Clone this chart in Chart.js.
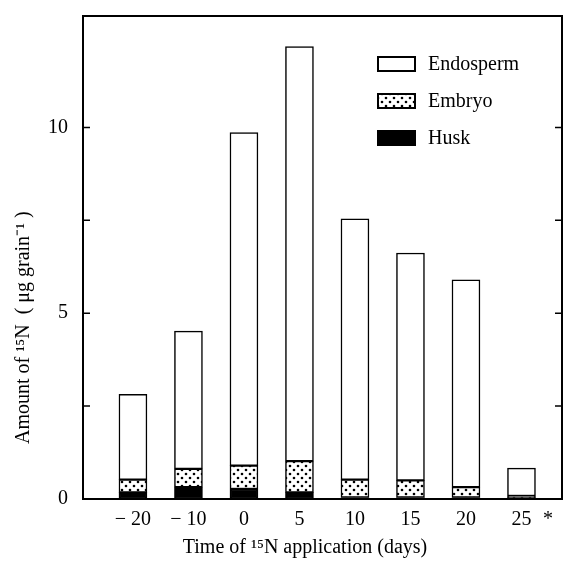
<!DOCTYPE html>
<html>
<head>
<meta charset="utf-8">
<script src="https://cdn.jsdelivr.net/npm/chart.js@4.4.1/dist/chart.umd.min.js"></script>
<style>
  html, body { margin: 0; padding: 0; background: #fff; }
  #chart { display: block; }
</style>
</head>
<body>
<canvas id="chart" width="563" height="563"></canvas>
<script>
/* ── Data ───────────────────────────────────────────────── */

const dayLabels = ['\u2212 20', '\u2212 10', '0', '5', '10', '15', '20', '25'];
const noteLabel = '*';
const huskValues = [0.18, 0.32, 0.27, 0.18, 0.04, 0.04, 0.04, 0.03];
const embryoValues = [0.34, 0.49, 0.63, 0.84, 0.48, 0.46, 0.28, 0.05];
const endospermValues = [2.30, 3.71, 8.96, 11.16, 7.02, 6.12, 5.58, 0.75];
const yTickLabels = [0, 5, 10];

/* ── Layout ─────────────────────────────────────────────── */

const NOTE_POS = 7.48;
const FONT = { family: '"Liberation Serif", "Times New Roman", serif', size: 20 };
const Y_TITLE_LEAD = '\u2003\u2003   ';
const X_TITLE_TAIL = '\u2003\u2002 ';

function toPoints(values) {
  return values.map((v, i) => ({ x: i, y: v }));
}

function dotPattern() {
  const c = document.createElement('canvas');
  c.width = 8;
  c.height = 8;
  const g = c.getContext('2d');
  g.fillStyle = '#fff';
  g.fillRect(0, 0, 8, 8);
  g.fillStyle = '#000';
  [[2, 2], [6, 6]].forEach(([x, y]) => {
    g.beginPath();
    g.arc(x, y, 1.3, 0, Math.PI * 2);
    g.fill();
  });
  return g.createPattern(c, 'repeat');
}

// frame round the plot plus short inward ticks on both sides
const framePlugin = {
  id: 'frame',
  afterDatasetsDraw(chart) {
    const { ctx, chartArea: a, scales: { y } } = chart;
    ctx.save();
    ctx.strokeStyle = '#000';
    ctx.lineWidth = 2;
    ctx.strokeRect(a.left, a.top, a.right - a.left, a.bottom - a.top);
    ctx.lineWidth = 1.5;
    y.ticks.filter(t => t.value > 0 && t.value <= 10).forEach(t => {
      const py = y.getPixelForValue(t.value);
      ctx.beginPath();
      ctx.moveTo(a.left, py);
      ctx.lineTo(a.left + 7, py);
      ctx.moveTo(a.right, py);
      ctx.lineTo(a.right - 7, py);
      ctx.stroke();
    });
    ctx.restore();
  },
};

// legend boxes inside the plot, top to bottom in reverse stack order
const boxLegend = {
  id: 'boxLegend',
  afterDraw(chart) {
    const { ctx } = chart;
    const sets = chart.data.datasets.slice().reverse();
    ctx.save();
    ctx.font = `${FONT.size}px ${FONT.family}`;
    ctx.textBaseline = 'middle';
    sets.forEach((ds, i) => {
      const y = 64 + i * 37;
      ctx.fillStyle = ds.backgroundColor;
      ctx.fillRect(378, y - 7, 37, 14);
      ctx.lineWidth = 2;
      ctx.strokeStyle = '#000';
      ctx.strokeRect(378, y - 7, 37, 14);
      ctx.fillStyle = '#000';
      ctx.fillText(ds.label, 428, y + 1);
    });
    ctx.restore();
  },
};

const dots = dotPattern();

// eslint-disable-next-line no-undef
new Chart(document.getElementById('chart').getContext('2d'), {
  type: 'bar',
  data: {
    datasets: [
      { label: 'Husk', data: toPoints(huskValues), backgroundColor: '#000' },
      { label: 'Embryo', data: toPoints(embryoValues), backgroundColor: dots },
      { label: 'Endosperm', data: toPoints(endospermValues), backgroundColor: '#fff' },
    ],
  },
  options: {
    responsive: false,
    animation: false,
    layout: { padding: { top: 16, right: 1, bottom: 0, left: 0 } },
    datasets: {
      bar: {
        borderColor: '#000',
        borderWidth: 1.5,
        borderSkipped: false,
        barThickness: 28,
      },
    },
    plugins: { legend: { display: false }, tooltip: { enabled: false } },
    scales: {
      x: {
        type: 'linear',
        stacked: true,
        offset: false,
        min: -0.9,
        max: 7.73,
        grid: { display: false, drawTicks: false },
        border: { display: false },
        afterBuildTicks: s => {
          s.ticks = dayLabels.map((_, i) => ({ value: i })).concat({ value: NOTE_POS });
        },
        afterFit: s => {
          s.height = 64;
          s.paddingLeft = 0;
          s.paddingRight = 0;
        },
        ticks: {
          autoSkip: false,
          maxRotation: 0,
          padding: 9,
          color: '#000',
          font: FONT,
          callback: (v, i) => (i < dayLabels.length ? dayLabels[i] : noteLabel),
        },
        title: {
          display: true,
          text: 'Time of \u00b9\u2075N application (days)' + X_TITLE_TAIL,
          color: '#000',
          font: FONT,
          padding: { top: 0, bottom: 3 },
        },
      },
      y: {
        stacked: true,
        min: 0,
        max: 13,
        grid: { display: false, drawTicks: false },
        border: { display: false },
        afterFit: s => {
          s.width = 83;
          s.paddingTop = 0;
          s.paddingBottom = 0;
        },
        ticks: {
          stepSize: 2.5,
          padding: 15,
          color: '#000',
          font: FONT,
          callback: v => (yTickLabels.includes(v) ? String(v) : ''),
        },
        title: {
          display: true,
          align: 'start',
          text: Y_TITLE_LEAD + 'Amount of \u00b9\u2075N  ( \u03bcg grain\u207b\u00b9 )',
          color: '#000',
          font: FONT,
          padding: { top: 12, bottom: 0 },
        },
      },
    },
  },
  plugins: [framePlugin, boxLegend],
});
</script>
</body>
</html>
